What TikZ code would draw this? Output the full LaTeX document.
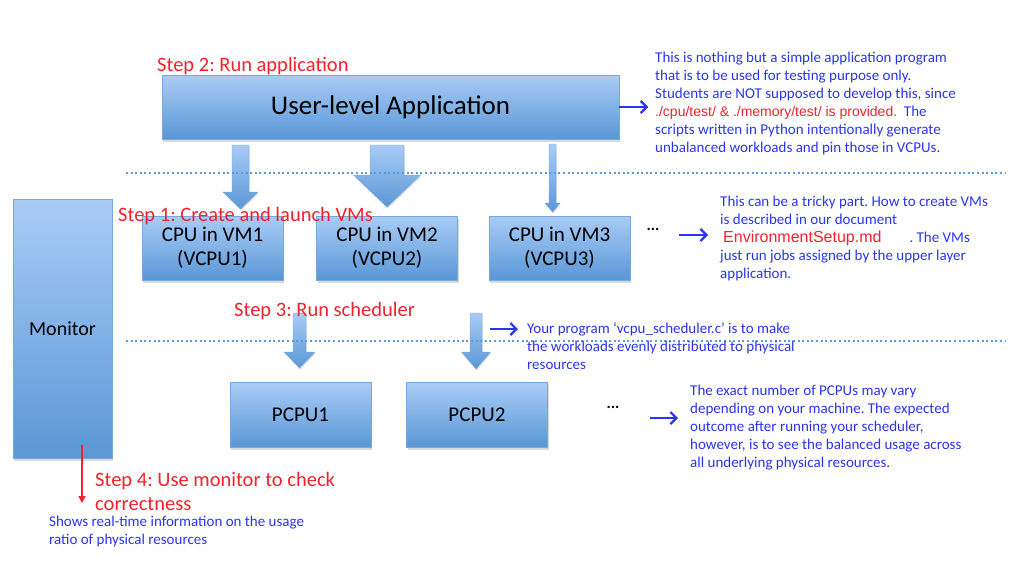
\documentclass[tikz,border=0pt]{standalone}
\usepackage{fontspec}
\setmainfont{Carlito}
\newfontfamily\arialfont{Liberation Sans}
\usetikzlibrary{shadows,arrows.meta,positioning}
\frenchspacing

\definecolor{boxtop}{HTML}{A9CCF6}
\definecolor{boxbot}{HTML}{5A97D6}
\definecolor{boxline}{HTML}{7BA8DC}
\definecolor{noteblue}{HTML}{2B35F0}
\definecolor{stepred}{HTML}{F5222D}
\definecolor{dotline}{HTML}{5B9BD5}

% block arrow: x, top, tip, shaft half width, head half width, head length
\newcommand{\blockarrow}[6]{%
	\shade[top color=boxtop, bottom color=boxbot, draw=boxline, line width=0.4pt,
		drop shadow={shadow xshift=0.8pt, shadow yshift=-1.5pt, opacity=0.25}]
	(#1-#4,#2) -- (#1+#4,#2) -- (#1+#4,#3-#6) -- (#1+#5,#3-#6) -- (#1,#3)
	-- (#1-#5,#3-#6) -- (#1-#4,#3-#6) -- cycle;}

\begin{document}
\begin{tikzpicture}[x=1pt,y=-1pt,
	box/.style={draw=boxline, line width=0.5pt, top color=boxtop, bottom color=boxbot,
		drop shadow={shadow xshift=1pt, shadow yshift=-2.5pt, opacity=0.3},
		inner sep=0pt, align=center, font=\fontsize{21}{24.5}\selectfont},
	vmbox/.style={box, minimum width=141pt, minimum height=64pt, text depth=3pt},
	pcbox/.style={box, minimum width=141pt, minimum height=65pt},
	steptext/.style={text=stepred, inner sep=0pt, anchor=west, align=left,
		font=\fontsize{20.5}{24}\selectfont},
	note/.style={text=noteblue, inner sep=0pt, anchor=north west, align=left,
		font=\fontsize{15}{18}\selectfont},
	notearrow/.style={draw=noteblue, line width=2.2pt, -{Straight Barb[length=6pt,width=12pt]}},
	steparrow/.style={draw=stepred, line width=1.5pt, -{Triangle[length=7pt,width=7pt]}},
	sep/.style={draw=dotline, line width=2.4pt, dash pattern=on 2pt off 2.6pt},
	dots/.style={inner sep=0pt, font=\bfseries\fontsize{16}{18}\selectfont}
	]
	\useasboundingbox (0,0) rectangle (1031,563);

	% layer boxes
	\node[box, minimum width=457pt, minimum height=64pt, font=\fontsize{27}{30}\selectfont]
		(app) at (390.5,107) {User-level Application};
	\node[box, minimum width=99pt, minimum height=259pt, font=\fontsize{20}{24}\selectfont]
		(monitor) at (62.5,328.5) {Monitor};
	\node[vmbox] (vm1) at (212.5,248) {CPU in VM1\\(VCPU1)};
	\node[vmbox, right=33pt of vm1] (vm2) {CPU in VM2\\(VCPU2)};
	\node[vmbox, right=31pt of vm2] (vm3) {CPU in VM3\\(VCPU3)};
	\node[pcbox] (pcpu1) at (300.5,414.5) {PCPU1};
	\node[pcbox, right=35pt of pcpu1] (pcpu2) {PCPU2};

	% block arrows
	\blockarrow{240.5}{145}{209}{8.5}{17.5}{17}
	\blockarrow{387}{145}{207}{17}{33.5}{32}
	\blockarrow{552.5}{144}{212}{3.5}{7.5}{9}
	\blockarrow{299.5}{313}{368}{6.5}{15.5}{16}
	\blockarrow{476}{313}{369}{6}{14.5}{17}

	% separators
	\draw[sep] (126,173) -- (1005,173);
	\draw[sep] (126,341) -- (1005,341);

	% steps
	\node[steptext] (step2) at (157,66) {Step 2: Run application};
	\node[steptext] (step1) at (118,216) {Step 1: Create and launch VMs};
	\node[steptext] (step3) at (234,311) {Step 3: Run scheduler};
	\node[steptext] (step4) at (95,491) {Step 4: Use monitor to check\\correctness};

	% notes
	\node[note] (appnote) at (655,52) {This is nothing but a simple application program\\
		that is to be used for testing purpose only.\\
		Students are NOT supposed to develop this, since\\
		{\arialfont\fontsize{14}{18}\selectfont\color{stepred}./cpu/test/ \& ./memory/test/ is provided.}\ \ The\\
		scripts written in Python intentionally generate\\
		unbalanced workloads and pin those in VCPUs.};
	\draw[notearrow] (app.east) -- ++(29,0);

	\node[dots] (vmdots) at (653,229) {...};
	\coordinate (vmarrow) at (679,235);
	\draw[notearrow] (vmarrow) -- ++(29,0);
	\node[note] (vmnote) at (720,196) {This can be a tricky part. How to create VMs\\
		is described in our document\\
		\hspace{3pt}{\arialfont\fontsize{16}{18}\selectfont\color{stepred}EnvironmentSetup.md}\hspace{28pt}. The VMs\\
		just run jobs assigned by the upper layer\\
		application.};

	\coordinate (scharrow) at (490,329);
	\draw[notearrow] (scharrow) -- ++(28,0);
	\node[note] (schnote) at (527,322) {Your program `vcpu\_scheduler.c' is to make\\
		the workloads evenly distributed to physical\\
		resources};

	\node[dots] (pcdots) at (613,407) {...};
	\coordinate (pcarrow) at (650,418);
	\draw[notearrow] (pcarrow) -- ++(28,0);
	\node[note] (pcnote) at (690,385) {The exact number of PCPUs may vary\\
		depending on your machine. The expected\\
		outcome after running your scheduler,\\
		however, is to see the balanced usage across\\
		all underlying physical resources.};

	% monitor
	\draw[steparrow] (82,445) -- (82,503);
	\node[note] (monnote) at (49,516) {Shows real-time information on the usage\\
		ratio of physical resources};
\end{tikzpicture}
\end{document}
